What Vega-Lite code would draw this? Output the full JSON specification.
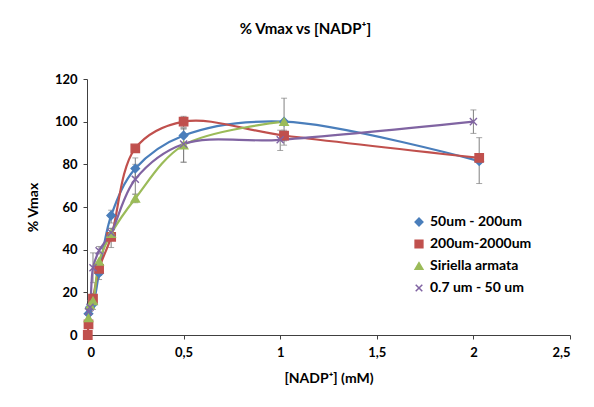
{
  "$schema": "https://vega.github.io/schema/vega-lite/v6.json",
  "width": 483,
  "height": 256,
  "autosize": {"type": "none"},
  "padding": {"left": 87, "top": 79, "right": 24, "bottom": 72},
  "background": "white",
  "title": {
    "text": "% Vmax vs [NADP⁺]",
    "font": "Lato",
    "fontSize": 15,
    "fontWeight": "bold",
    "color": "#000000",
    "anchor": "middle",
    "dx": -23,
    "offset": 36
  },
  "data": {
    "values": [
      {"series": "50um - 200um", "x": 0.0078, "y": 10, "lo": null, "hi": null},
      {"series": "50um - 200um", "x": 0.0156, "y": 13, "lo": 11, "hi": 16},
      {"series": "50um - 200um", "x": 0.031, "y": 14.5, "lo": 12, "hi": 17},
      {"series": "50um - 200um", "x": 0.0625, "y": 29, "lo": 26, "hi": 32},
      {"series": "50um - 200um", "x": 0.125, "y": 56, "lo": 52.5, "hi": 58.5},
      {"series": "50um - 200um", "x": 0.25, "y": 78, "lo": 74, "hi": 83},
      {"series": "50um - 200um", "x": 0.5, "y": 93.5, "lo": 90, "hi": 96.5},
      {"series": "50um - 200um", "x": 1.02, "y": 100, "lo": null, "hi": null},
      {"series": "50um - 200um", "x": 2.03, "y": 81.5, "lo": null, "hi": null},
      {"series": "200um-2000um", "x": 0.004, "y": 0, "lo": null, "hi": null},
      {"series": "200um-2000um", "x": 0.0078, "y": 5, "lo": null, "hi": null},
      {"series": "200um-2000um", "x": 0.031, "y": 17, "lo": 15, "hi": 19.5},
      {"series": "200um-2000um", "x": 0.0625, "y": 31, "lo": 28, "hi": 33},
      {"series": "200um-2000um", "x": 0.125, "y": 46, "lo": 41, "hi": 50},
      {"series": "200um-2000um", "x": 0.25, "y": 87.5, "lo": null, "hi": null},
      {"series": "200um-2000um", "x": 0.5, "y": 100, "lo": 97.5, "hi": 102.5},
      {"series": "200um-2000um", "x": 1.02, "y": 93.5, "lo": 91, "hi": 96},
      {"series": "200um-2000um", "x": 2.03, "y": 83, "lo": 71, "hi": 92.5},
      {"series": "Siriella armata", "x": 0.0078, "y": 8, "lo": null, "hi": null},
      {"series": "Siriella armata", "x": 0.0156, "y": 14, "lo": null, "hi": null},
      {"series": "Siriella armata", "x": 0.031, "y": 16, "lo": null, "hi": null},
      {"series": "Siriella armata", "x": 0.0625, "y": 34.5, "lo": null, "hi": null},
      {"series": "Siriella armata", "x": 0.125, "y": 47.5, "lo": 45, "hi": 50},
      {"series": "Siriella armata", "x": 0.25, "y": 64, "lo": 62, "hi": 66},
      {"series": "Siriella armata", "x": 0.5, "y": 89, "lo": 81, "hi": 97},
      {"series": "Siriella armata", "x": 1.02, "y": 100, "lo": 89, "hi": 111},
      {"series": "0.7 um - 50 um", "x": 0.0078, "y": 11, "lo": null, "hi": null},
      {"series": "0.7 um - 50 um", "x": 0.0156, "y": 13, "lo": null, "hi": null},
      {"series": "0.7 um - 50 um", "x": 0.031, "y": 31.5, "lo": 24.5, "hi": 38.5},
      {"series": "0.7 um - 50 um", "x": 0.0625, "y": 39.5, "lo": 38, "hi": 41.5},
      {"series": "0.7 um - 50 um", "x": 0.125, "y": 48, "lo": null, "hi": null},
      {"series": "0.7 um - 50 um", "x": 0.25, "y": 73, "lo": 66, "hi": 80},
      {"series": "0.7 um - 50 um", "x": 0.5, "y": 89.5, "lo": 81, "hi": 97},
      {"series": "0.7 um - 50 um", "x": 1.0, "y": 91.5, "lo": 86.5, "hi": 96},
      {"series": "0.7 um - 50 um", "x": 2.0, "y": 100, "lo": 94.5, "hi": 105.5}
    ]
  },
  "encoding": {
    "x": {
      "field": "x",
      "type": "quantitative",
      "title": "[NADP⁺] (mM)",
      "scale": {"domain": [0, 2.5], "nice": false, "zero": true},
      "axis": {"values": [0, 0.5, 1, 1.5, 2, 2.5], "labelExpr": "replace(format(datum.value, '~g'), '.', ',')", "labelPadding": 7, "titlePadding": 12}
    }
  },
  "layer": [
    {
      "transform": [{"filter": "isValid(datum.lo)"}],
      "mark": {"type": "errorbar", "ticks": {"size": 6, "color": "#808080"}, "rule": {"color": "#808080", "strokeWidth": 1}},
      "encoding": {
        "y": {"field": "lo", "type": "quantitative", "title": "% Vmax", "scale": {"domain": [0, 120], "nice": false}},
        "y2": {"field": "hi"}
      }
    },
    {
      "mark": {"type": "line", "interpolate": "catmull-rom", "strokeWidth": 2.2},
      "encoding": {
        "y": {"field": "y", "type": "quantitative", "title": "% Vmax", "scale": {"domain": [0, 120], "nice": false}, "axis": {"values": [0, 20, 40, 60, 80, 100, 120], "titlePadding": 14, "labelPadding": 6}},
        "color": {
          "field": "series",
          "type": "nominal",
          "scale": {"domain": ["50um - 200um", "200um-2000um", "Siriella armata", "0.7 um - 50 um"], "range": ["#4A7EBB", "#C0504D", "#9BBB59", "#8064A2"]},
          "legend": {"orient": "none", "legendX": 325, "legendY": 136, "title": null}
        }
      }
    },
    {
      "mark": {"type": "point", "filled": true, "opacity": 1, "strokeWidth": 1.4},
      "encoding": {
        "y": {"field": "y", "type": "quantitative"},
        "color": {
          "field": "series",
          "type": "nominal",
          "scale": {"domain": ["50um - 200um", "200um-2000um", "Siriella armata", "0.7 um - 50 um"], "range": ["#4A7EBB", "#C0504D", "#9BBB59", "#8064A2"]}
        },
        "stroke": {
          "field": "series",
          "type": "nominal",
          "scale": {"domain": ["50um - 200um", "200um-2000um", "Siriella armata", "0.7 um - 50 um"], "range": ["#4A7EBB", "#C0504D", "#9BBB59", "#8064A2"]}
        },
        "shape": {
          "field": "series",
          "type": "nominal",
          "scale": {"domain": ["50um - 200um", "200um-2000um", "Siriella armata", "0.7 um - 50 um"], "range": ["diamond", "square", "triangle-up", "M-0.85,-0.85L0.85,0.85M-0.85,0.85L0.85,-0.85"]}
        },
        "size": {"value": 70}
      }
    }
  ],
  "config": {
    "font": "Lato",
    "view": {"stroke": null},
    "axis": {
      "grid": false,
      "domainColor": "#404040",
      "tickColor": "#404040",
      "labelFont": "Lato",
      "labelFontWeight": "bold",
      "labelFontSize": 13,
      "labelColor": "#000000",
      "titleFont": "Lato",
      "titleFontWeight": "bold",
      "titleFontSize": 14,
      "titleColor": "#000000",
      "tickSize": 4
    },
    "legend": {
      "orient": "none",
      "legendX": 325,
      "legendY": 136,
      "title": null,
      "labelFont": "Lato",
      "labelFontWeight": "bold",
      "labelFontSize": 14,
      "labelColor": "#000000",
      "rowPadding": 8,
      "symbolSize": 60,
      "symbolStrokeWidth": 1.5
    }
  }
}
